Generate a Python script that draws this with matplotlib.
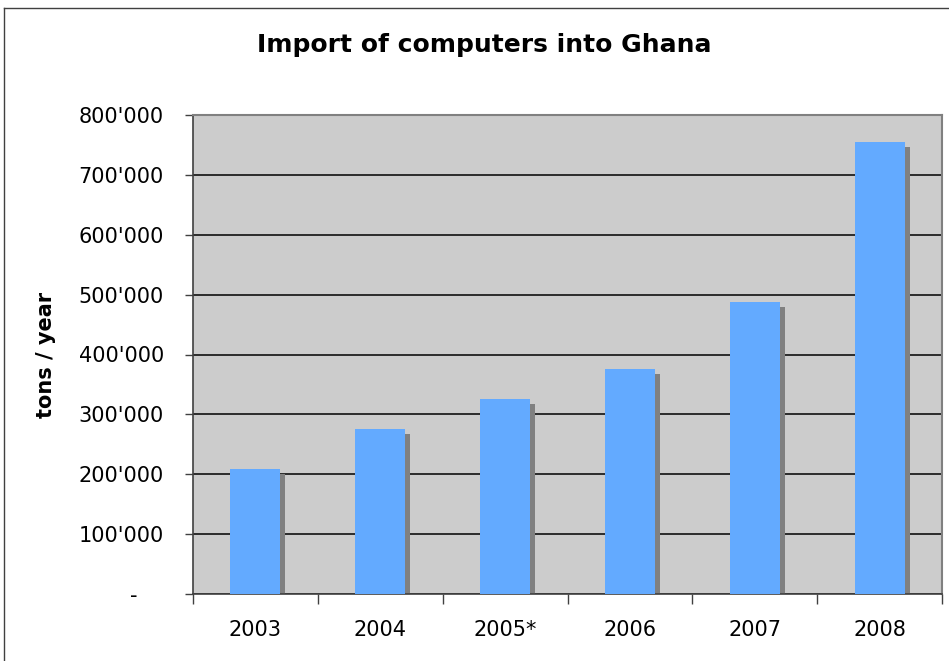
import matplotlib.pyplot as plt
from matplotlib.lines import Line2D

years = ['2003', '2004', '2005*', '2006', '2007', '2008']
tons = [209000, 276000, 326000, 375000, 487000, 755000]
yticks = [0, 100000, 200000, 300000, 400000, 500000, 600000, 700000, 800000]
ytick_labels = ['-    ', "100'000", "200'000", "300'000", "400'000",
                "500'000", "600'000", "700'000", "800'000"]

W, H = 949, 661
fig = plt.figure(figsize=(W / 100, H / 100), dpi=100)
fig.patch.set_facecolor('white')

# outer chart border (cropped on right and bottom)
fig.add_artist(Line2D([4 / W, 4 / W], [-0.05, 1 - 8 / H], transform=fig.transFigure,
                      color='#404040', lw=1))
fig.add_artist(Line2D([4 / W, 1.05], [1 - 8 / H, 1 - 8 / H], transform=fig.transFigure,
                      color='#404040', lw=1))

ax = fig.add_axes([193 / W, 1 - 594 / H, 749 / W, 479 / H])
ax.set_facecolor('#CCCCCC')

x = list(range(len(years)))
shadow_dx = 0.04
shadow_dy = 8300
ax.bar([i + shadow_dx for i in x], tons, width=0.4, bottom=-shadow_dy,
       color='#808080', zorder=2)
ax.bar(x, tons, width=0.4, color='#63AAFF', zorder=3)

ax.set_xlim(-0.5, len(years) - 0.5)
ax.set_ylim(0, 800000)

ax.set_yticks(yticks)
ax.set_yticklabels(ytick_labels, fontsize=15, family='DejaVu Sans')
ax.yaxis.grid(True, color='black', lw=1.1, zorder=1)
ax.set_axisbelow(True)

ax.set_xticks([i - 0.5 for i in range(len(years) + 1)])
ax.set_xticklabels([])
ax.set_xticks(x, minor=True)
ax.set_xticklabels(years, minor=True, fontsize=15, family='DejaVu Sans')
ax.tick_params(axis='x', which='major', length=7, width=1, color='#404040', direction='out')
ax.tick_params(axis='x', which='minor', length=0, pad=19)
ax.tick_params(axis='y', length=6, width=1, color='#404040', pad=15)

for s in ['left', 'bottom']:
    ax.spines[s].set_color('#404040')
    ax.spines[s].set_linewidth(1.2)
for s in ['top', 'right']:
    ax.spines[s].set_color('#808080')
    ax.spines[s].set_linewidth(1.5)

ax.set_ylabel('tons / year', fontsize=15, fontweight='bold', family='DejaVu Sans')
ax.yaxis.set_label_coords(-0.183, 0.5)

fig.text(484 / W, 1 - 52 / H, 'Import of computers into Ghana', ha='center', va='baseline',
         fontsize=18, fontweight='bold', family='DejaVu Sans')

fig.savefig('out.png', dpi=100)
